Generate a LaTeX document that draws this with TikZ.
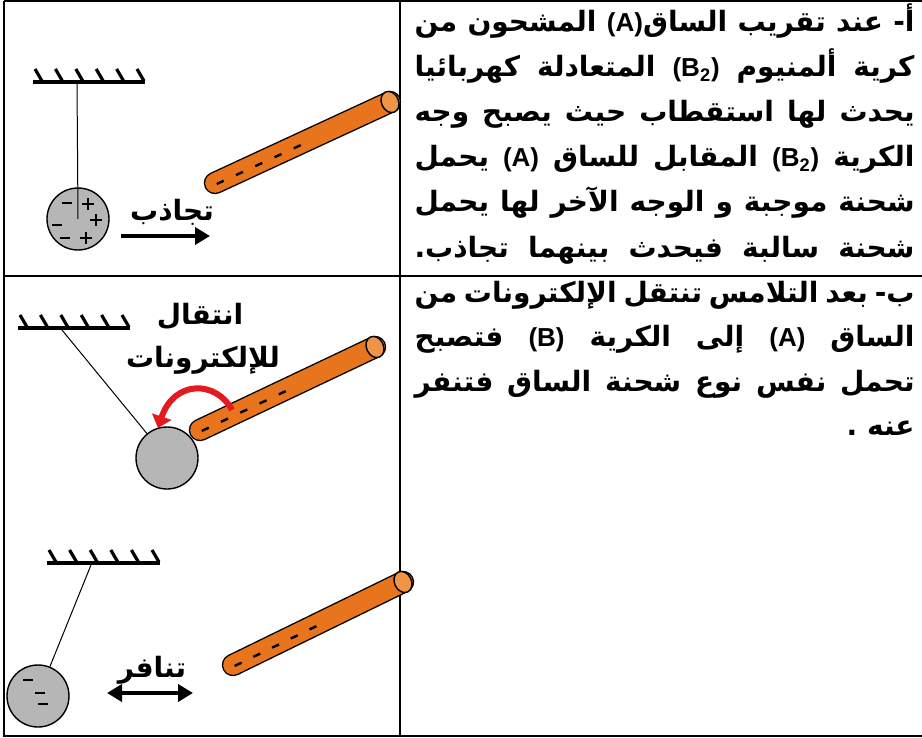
\documentclass[tikz,border=0pt]{standalone}
\usepackage{fontspec}
\setmainfont{Liberation Sans}
\newfontfamily\arabicfont[Script=Arabic]{DejaVu Sans}
\TeXXeTstate=1
\usetikzlibrary{arrows.meta,calc,shapes.geometric}
\definecolor{RodFill}{RGB}{232,116,30}
\definecolor{RodEnd}{RGB}{240,148,70}
\definecolor{BallFill}{RGB}{182,182,182}
\definecolor{TransferRed}{RGB}{228,26,32}
% right-to-left and left-to-right runs
\newcommand{\rtl}[1]{\beginR#1\endR}
\newcommand{\lat}[1]{\beginL{\rmfamily\bfseries\fontsize{13}{14}\selectfont#1}\endL}
\newlength{\cellw}
\setlength{\cellw}{250pt}
\newcommand{\fullline}[1]{\hbox to \cellw{\beginR#1\endR}}
% charges drawn as strokes
\newcommand{\minussign}[2]{\draw[line width=1.4pt] ({#1-5},#2) -- ({#1+5},#2);}
\newcommand{\plussign}[2]{\draw[line width=1.4pt] ({#1-6},#2) -- ({#1+6},#2) (#1,{#2-6}) -- (#1,{#2+6});}
% ceiling with hatching: name, x1, x2, y
\newcommand{\ceiling}[4]{%
  \draw[line width=2pt] (#2,#4) -- (#3,#4);
  \foreach \k in {0,...,5}
    \draw[line width=1.6pt] ({#2+2+\k*(#3-#2-10)/5},{#4-13}) -- ++(7,12);
}
% charged rod: name, lower end, upper end, angle
\newcommand{\rod}[4]{%
  \coordinate (#1-a) at (#2);
  \coordinate (#1-b) at (#3);
  \draw[line width=11.2pt, line cap=round] (#1-a) -- (#1-b);
  \draw[line width=9.8pt, line cap=round, RodFill] (#1-a) -- (#1-b);
  \foreach \t in {0.03,0.14,0.25,0.36,0.47}
    \draw[line width=1.2pt] ($(#1-a)!\t!(#1-b)+(-3.5,3.4)$) -- ++(7,-3.2);
  \node[rodend, rotate=#4] (#1-end) at (#1-b) {};
}
\tikzset{
  % table rules
  rule/.style={line width=1pt, draw=black},
  % explanation text
  explain/.style={anchor=base east, inner sep=0pt,
    font=\arabicfont\bfseries\fontsize{14}{16}\selectfont},
  % labels beside the drawings
  tag/.style={inner sep=0pt, font=\arabicfont\bfseries\fontsize{14}{16}\selectfont},
  % aluminium ball
  ball/.style={circle, draw=black, line width=0.7pt, fill=BallFill,
    minimum size=31pt, inner sep=0pt},
  % end face of the rod
  rodend/.style={ellipse, draw=black, line width=0.7pt, fill=RodEnd,
    minimum width=8.5pt, minimum height=11pt, inner sep=0pt},
  thread/.style={draw=black, line width=0.5pt},
  force/.style={line width=2pt, -{Triangle[length=7.5pt,width=8.5pt]}},
  repel/.style={line width=2pt, {Triangle[length=7.5pt,width=8.5pt]}-{Triangle[length=7.5pt,width=8.5pt]}},
  transfer/.style={draw=TransferRed, line width=3pt,
    -{Triangle[length=6pt,width=10pt]}}
}
\begin{document}
\begin{tikzpicture}[x=0.5pt,y=-0.5pt]
  \useasboundingbox (0,0) rectangle (922,738);
  \fill[white] (0,0) rectangle (922,738);

  % table
  \draw[rule] (4,1) -- (922,1);
  \draw[rule] (4,1) -- (4,736) -- (922,736);
  \draw[rule] (400,1) -- (400,736);
  \draw[rule] (4,276) -- (922,276);

  % --- first cell: polarisation and attraction
  \ceiling{c1}{33}{145}{82}
  \coordinate (t1) at (77,82);
  \node[ball] (b1) at (78,219) {};
  \draw[thread] (t1) -- (b1.center);
  \minussign{67}{203} \plussign{88}{204}
  \plussign{96}{220}  \minussign{57}{225}
  \minussign{65}{238} \plussign{86}{238}
  \rod{r1}{215,183}{390,102}{24.8}
  \coordinate (att-s) at (121,236);
  \coordinate (att-e) at (210,236);
  \draw[force] (att-s) -- (att-e);
  \node[tag] (att) at (172,212) {\rtl{تجاذب}};

  % --- second cell: contact
  \ceiling{c2}{18}{130}{328}
  \coordinate (t2) at (62,330);
  \node[ball] (b2) at (167,458) {};
  \draw[thread] (t2) -- (b2);
  \rod{r2}{200,430}{375,347}{25.4}
  \coordinate (tr-s) at (232,410);
  \coordinate (tr-e) at (158,428);
  \draw[transfer] (tr-s) .. controls (216,380) and (174,380) .. (tr-e);
  \node[tag] (move) at (200,316) {\rtl{انتقال}};
  \node[tag] (elec) at (203,360) {\rtl{للإلكترونات}};

  % --- second cell: repulsion
  \ceiling{c3}{47}{160}{563}
  \coordinate (t3) at (91,565);
  \node[ball] (b3) at (38,696) {};
  \draw[thread] (t3) -- (b3);
  \minussign{28}{680} \minussign{40}{693} \minussign{43}{704}
  \rod{r3}{233,665}{403,582}{26}
  \coordinate (rep-s) at (107,693);
  \coordinate (rep-e) at (193,693);
  \draw[repel] (rep-s) -- (rep-e);
  \node[tag] (rep) at (152,670) {\rtl{تنافر}};

  % explanation texts
  \node[explain] (a1) at (915,32)  {\fullline{أ- عند تقريب الساق\lat{(A)} المشحون من}};
  \node[explain] (a2) at (915,77)  {\fullline{كرية ألمنيوم \lat{(B\textsubscript{2})} المتعادلة كهربائيا}};
  \node[explain] (a3) at (915,122) {\fullline{يحدث لها استقطاب حيث يصبح وجه}};
  \node[explain] (a4) at (915,167) {\fullline{الكرية \lat{(B\textsubscript{2})} المقابل للساق \lat{(A)} يحمل}};
  \node[explain] (a5) at (915,212) {\fullline{شحنة موجبة و الوجه الآخر لها يحمل}};
  \node[explain] (a6) at (915,257) {\fullline{شحنة سالبة فيحدث بينهما تجاذب.}};

  \node[explain] (b1t) at (915,302)   {\fullline{ب- بعد التلامس تنتقل الإلكترونات من}};
  \node[explain] (b2t) at (915,346.5) {\fullline{الساق \lat{(A)} إلى الكرية \lat{(B)} فتصبح}};
  \node[explain] (b3t) at (915,391)   {\fullline{تحمل نفس نوع شحنة الساق فتنفر}};
  \node[explain] (b4t) at (915,435.5) {\rtl{عنه .}};
\end{tikzpicture}
\end{document}
